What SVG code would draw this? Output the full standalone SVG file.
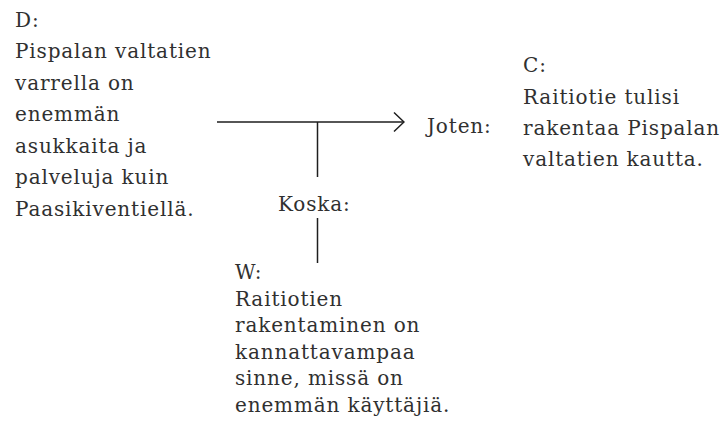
<svg xmlns="http://www.w3.org/2000/svg" width="724" height="448" viewBox="0 0 724 448">
  <style>
    .t { font-family: "DejaVu Serif", "Liberation Serif", serif; font-size: 20px; fill: #303030; letter-spacing: 0.85px; }
    .ln { stroke: #1e1e1e; stroke-width: 1.5; fill: none; }
  </style>
  <defs>
    <!-- open chevron arrowhead -->
    <marker id="chev" viewBox="0 0 12 22" refX="11" refY="11" markerWidth="12" markerHeight="22" markerUnits="userSpaceOnUse" orient="auto">
      <path d="M1,1.5 L11,11 L1,20.5" fill="none" stroke="#1e1e1e" stroke-width="1.5"/>
    </marker>
  </defs>
  <rect width="724" height="448" fill="#fff"/>

  <g id="connectors">
    <line class="ln" x1="217" y1="122" x2="404" y2="122" marker-end="url(#chev)"/>
    <line class="ln" x1="317.5" y1="122" x2="317.5" y2="177"/>
    <line class="ln" x1="317.5" y1="218" x2="317.5" y2="263"/>
  </g>

  <g id="data">
    <text class="t" x="15" y="26.5">D:</text>
    <text class="t" x="15" y="58">Pispalan valtatien</text>
    <text class="t" x="15" y="89.5">varrella on</text>
    <text class="t" x="15" y="121">enemmän</text>
    <text class="t" x="15" y="152.5">asukkaita ja</text>
    <text class="t" x="15" y="184">palveluja kuin</text>
    <text class="t" x="15" y="215.5">Paasikiventiellä.</text>
  </g>

  <g id="qualifier">
    <text class="t" x="427" y="133">Joten:</text>
  </g>

  <g id="claim">
    <text class="t" x="523" y="72">C:</text>
    <text class="t" x="523" y="103.5">Raitiotie tulisi</text>
    <text class="t" x="523" y="135">rakentaa Pispalan</text>
    <text class="t" x="523" y="166">valtatien kautta.</text>
  </g>

  <g id="because">
    <text class="t" x="278" y="211">Koska:</text>
  </g>

  <g id="warrant">
    <text class="t" x="235" y="279">W:</text>
    <text class="t" x="235" y="305.5">Raitiotien</text>
    <text class="t" x="235" y="332">rakentaminen on</text>
    <text class="t" x="235" y="358.5">kannattavampaa</text>
    <text class="t" x="235" y="385">sinne, missä on</text>
    <text class="t" x="235" y="411.5">enemmän käyttäjiä.</text>
  </g>
</svg>
